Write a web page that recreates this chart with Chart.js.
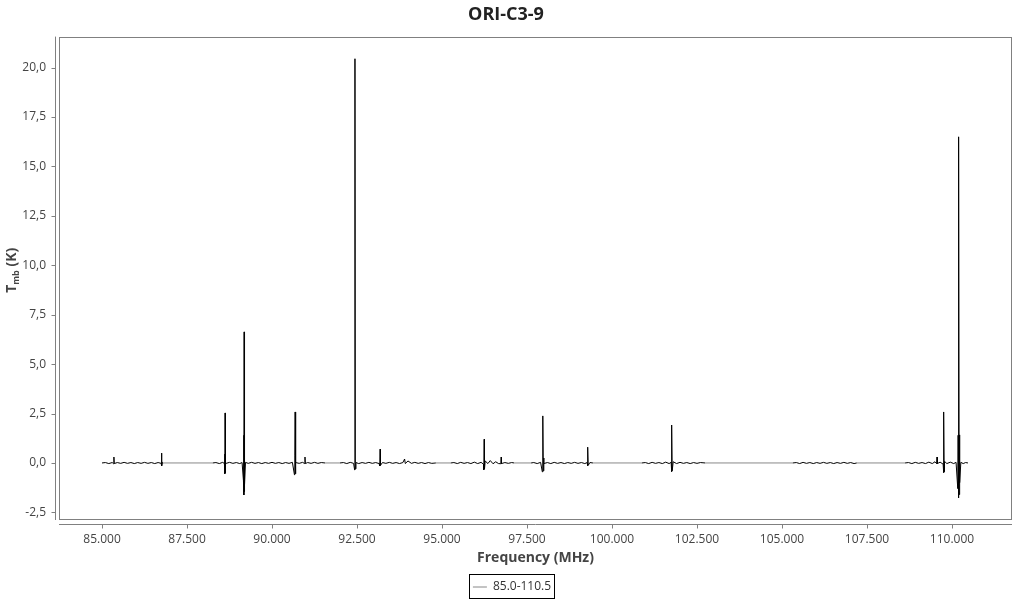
<!DOCTYPE html>
<html>
<head>
<meta charset="utf-8">
<script src="https://cdn.jsdelivr.net/npm/chart.js@4/dist/chart.umd.min.js"></script>
<style>
  html, body { margin: 0; padding: 0; background: #fff; }
  #wrap { width: 1024px; height: 600px; }
</style>
</head>
<body>
<div id="wrap"><canvas id="chart" width="1024" height="600"></canvas></div>
<script>
(function () {

  var chartTitle = 'ORI-C3-9';
  var seriesLabel = '85.0-110.5';
  var xTitle = 'Frequency (MHz)';
  var yTitleMain = 'T', yTitleSub = 'mb', yTitleUnit = ' (K)';

  var xMin = 83.735, xMax = 111.765, xStep = 2.5;
  var yMin = -2.886, yMax = 21.57, yStep = 2.5;

  // spectrum (MHz, K)
  var freqMHz = [
    85.00, 85.10, 85.20, 85.30, 85.34, 85.35, 85.36, 85.45, 85.55, 85.65, 85.75, 85.85, 85.95,
    86.05, 86.15, 86.25, 86.35, 86.45, 86.55, 86.65, 86.74, 86.75, 86.76, 86.78, 86.80,

    88.26, 88.35, 88.45, 88.55, 88.60, 88.61, 88.615, 88.62, 88.625, 88.63, 88.64, 88.75, 88.85,
    88.95, 89.05, 89.12, 89.16, 89.17, 89.175, 89.18, 89.185, 89.19, 89.20, 89.22, 89.30, 89.40,
    89.50, 89.60, 89.70, 89.80, 89.90, 90.00, 90.10, 90.20, 90.30, 90.40, 90.50, 90.60, 90.66,
    90.67, 90.68, 90.69, 90.70, 90.80, 90.90, 90.96, 90.97, 90.98, 91.05, 91.15, 91.25, 91.35,
    91.45, 91.56,

    92.00, 92.10, 92.20, 92.30, 92.40, 92.43, 92.44, 92.45, 92.47, 92.55, 92.65, 92.75, 92.85,
    92.95, 93.05, 93.15, 93.17, 93.18, 93.19, 93.25, 93.35, 93.45, 93.55, 93.65, 93.75, 93.85,
    93.90, 93.92, 94.00, 94.10, 94.20, 94.30, 94.40, 94.50, 94.60, 94.70, 94.82,

    95.26, 95.35, 95.45, 95.55, 95.65, 95.75, 95.85, 95.95, 96.05, 96.15, 96.22, 96.23, 96.24,
    96.25, 96.27, 96.35, 96.42, 96.50, 96.58, 96.66, 96.73, 96.74, 96.75, 96.85, 96.95, 97.05,
    97.12,

    97.62, 97.70, 97.80, 97.90, 97.95, 97.96, 97.97, 97.98, 97.99, 98.00, 98.10, 98.20, 98.30,
    98.40, 98.50, 98.60, 98.70, 98.80, 98.90, 99.00, 99.10, 99.20, 99.27, 99.28, 99.29, 99.30,
    99.35, 99.44,

    100.88, 100.98, 101.08, 101.18, 101.28, 101.38, 101.48, 101.58, 101.68, 101.74, 101.75,
    101.76, 101.77, 101.80, 101.90, 102.00, 102.10, 102.20, 102.30, 102.40, 102.50, 102.60,
    102.74,

    105.32, 105.42, 105.52, 105.62, 105.72, 105.82, 105.92, 106.02, 106.12, 106.22, 106.32,
    106.42, 106.52, 106.62, 106.72, 106.82, 106.92, 107.02, 107.12, 107.20,

    108.62, 108.72, 108.82, 108.92, 109.02, 109.12, 109.22, 109.32, 109.42, 109.50, 109.55,
    109.56, 109.57, 109.65, 109.74, 109.75, 109.76, 109.77, 109.78, 109.85, 109.95, 110.05,
    110.12, 110.17, 110.18, 110.19, 110.20, 110.21, 110.22, 110.23, 110.26, 110.33, 110.40,
    110.47
  ];

  var tmbK = [
    0, 0.02, -0.03, 0.02, -0.04, 0.30, -0.03, 0.02, -0.02, 0.03, -0.02, 0.02, -0.03,
    0.02, -0.02, 0.03, -0.02, 0.02, -0.03, 0.02, -0.02, 0.50, -0.15, 0.03, 0,

    0, 0.02, -0.03, 0.03, -0.03, 0.45, -0.55, 2.53, -0.50, 0.40, -0.03, 0.03, -0.02,
    0.02, -0.03, 0.02, -0.90, 1.40, -1.62, 6.63, -1.45, 1.42, -1.10, 0.03, -0.02, 0.03,
    -0.02, 0.02, -0.03, 0.02, -0.02, 0.03, -0.02, 0.02, -0.03, 0.02, -0.02, 0.03, -0.60,
    0.40, 2.58, -0.55, 0.02, -0.02, 0.03, -0.03, 0.30, -0.03, 0.02, -0.02, 0.03, -0.02,
    0.02, 0,

    0, 0.02, -0.03, 0.03, -0.02, -0.35, 20.45, -0.30, 0.02, -0.03, 0.02, -0.02, 0.03,
    -0.02, 0.02, -0.03, -0.15, 0.70, -0.12, 0.02, -0.02, 0.03, -0.02, 0.02, -0.03, 0.02,
    0.20, -0.03, 0.10, -0.02, 0.03, -0.02, 0.02, -0.03, 0.02, -0.02, 0,

    0, 0.02, -0.03, 0.03, -0.02, 0.02, -0.03, 0.04, -0.03, 0.03, -0.06, -0.35, 1.20,
    -0.30, 0.10, -0.03, 0.12, -0.04, 0.06, -0.03, -0.04, 0.30, -0.03, 0.02, -0.02, 0.02,
    0,

    0, 0.02, -0.03, 0.03, -0.45, 0.30, 2.38, -0.40, 0.25, -0.03, 0.02, -0.03, 0.03,
    -0.02, 0.02, -0.03, 0.02, -0.02, 0.03, -0.02, 0.02, -0.03, 0.02, -0.15, 0.80, -0.12,
    0.02, 0,

    0, 0.02, -0.03, 0.03, -0.02, 0.02, -0.03, 0.04, -0.03, 0.03, -0.45,
    1.92, -0.40, 0.06, -0.03, 0.03, -0.02, 0.02, -0.03, 0.02, -0.02, 0.02,
    0,

    0, 0.02, -0.03, 0.03, -0.02, 0.02, -0.03, 0.02, -0.02, 0.03, -0.02,
    0.02, -0.03, 0.02, -0.02, 0.03, -0.02, 0.02, -0.03, 0,

    0, 0.02, -0.03, 0.03, -0.02, 0.02, -0.03, 0.04, -0.03, 0.06, -0.04,
    0.30, -0.03, 0.04, -0.06, -0.50, 2.58, -0.45, 0.08, -0.03, 0.04, -0.03,
    0.03, -1.30, 1.40, -1.77, 16.50, -1.60, 1.42, -1.00, 0.03, -0.03, 0.02,
    0
  ];

  var font = '"Open Sans", "Noto Sans", sans-serif';
  var axisGray = '#808080';

  var points = freqMHz.map(function (f, i) {
    return { x: f, y: tmbK[i] };
  });

  // frame, offset axis lines, tick marks, y title with subscript, legend box
  var decor = {
    id: 'decor',
    afterLayout: function (chart) {
      // centre the legend on the whole canvas, not on the padded area
      chart.legend.left = 0;
      chart.legend.right = chart.width;
      chart.legend.width = chart.width;
    },
    beforeDatasetsDraw: function (chart) {
      var c = chart.ctx, a = chart.chartArea;
      var xs = chart.scales.x, ys = chart.scales.y;
      c.save();
      c.strokeStyle = axisGray;
      c.lineWidth = 1;
      c.strokeRect(Math.round(a.left) + 0.5, Math.round(a.top) + 0.5,
        Math.round(a.right - a.left) - 1, Math.round(a.bottom - a.top) - 1);

      var yl = Math.round(a.left) - 4 + 0.5;
      var xl = Math.round(a.bottom) + 4 + 0.5;
      c.beginPath();
      c.moveTo(yl, a.top);
      c.lineTo(yl, a.bottom);
      c.moveTo(a.left, xl);
      c.lineTo(a.right, xl);
      ys.ticks.forEach(function (t) {
        var p = Math.round(ys.getPixelForValue(t.value)) + 0.5;
        c.moveTo(yl - 4, p);
        c.lineTo(yl, p);
      });
      xs.ticks.forEach(function (t) {
        var p = Math.round(xs.getPixelForValue(t.value)) + 0.5;
        c.moveTo(p, xl);
        c.lineTo(p, xl + 4);
      });
      c.stroke();
      c.restore();
    },
    afterDraw: function (chart) {
      var c = chart.ctx, a = chart.chartArea;
      c.save();
      c.translate(12, (a.top + a.bottom) / 2 - 8);
      c.rotate(-Math.PI / 2);
      c.fillStyle = '#444';
      c.textBaseline = 'middle';
      var big = 'bold 14px ' + font, small = 'bold 9px ' + font;
      c.font = big;
      var w1 = c.measureText(yTitleMain).width;
      var w3 = c.measureText(yTitleUnit).width;
      c.font = small;
      var w2 = c.measureText(yTitleSub).width;
      var x0 = -(w1 + w2 + w3) / 2;
      c.font = big;
      c.fillText(yTitleMain, x0, 0);
      c.font = small;
      c.fillText(yTitleSub, x0 + w1, 4);
      c.font = big;
      c.fillText(yTitleUnit, x0 + w1 + w2, 0);
      c.restore();

      var hb = chart.legend.legendHitBoxes[0];
      if (hb) {
        c.save();
        c.strokeStyle = '#000';
        c.lineWidth = 1;
        c.strokeRect(Math.round(hb.left) - 3.5, Math.round(hb.top) - 6.5,
          Math.round(hb.width) + 7, hb.height + 12);
        c.restore();
      }
    }
  };

  new Chart(document.getElementById('chart').getContext('2d'), {
    type: 'line',
    data: {
      datasets: [{
        label: seriesLabel,
        data: points,
        borderColor: '#888',
        borderWidth: 1,
        pointRadius: 0,
        tension: 0,
        segment: {
          borderColor: function (s) {
            return (s.p1.parsed.x - s.p0.parsed.x) > 0.3 ? '#888' : '#000';
          }
        }
      }]
    },
    options: {
      responsive: false,
      animation: false,
      events: [],
      layout: { padding: { left: 0, right: 12, top: 0, bottom: -3 } },
      plugins: {
        title: {
          display: true,
          text: chartTitle,
          color: '#222',
          font: { family: font, size: 18, weight: 'bold' },
          padding: { top: 4, bottom: 11 }
        },
        legend: {
          display: true,
          position: 'bottom',
          labels: {
            color: '#333',
            font: { family: font, size: 12 },
            usePointStyle: true,
            pointStyle: 'line',
            pointStyleWidth: 14,
            padding: 10
          }
        },
        tooltip: { enabled: false }
      },
      scales: {
        x: {
          type: 'linear',
          min: xMin,
          max: xMax,
          afterFit: function (s) { s.height = 51; },
          border: { display: false },
          grid: { display: false, drawTicks: false },
          ticks: {
            stepSize: xStep,
            includeBounds: false,
            autoSkip: false,
            maxRotation: 0,
            padding: 12,
            color: '#444',
            font: { family: font, size: 12 },
            callback: function (v) { return v.toFixed(3); }
          },
          title: {
            display: true,
            text: xTitle,
            color: '#444',
            font: { family: font, size: 14, weight: 'bold' },
            padding: { top: 0, bottom: 5 }
          }
        },
        y: {
          type: 'linear',
          min: yMin,
          max: yMax,
          afterFit: function (s) { s.width = 59; },
          border: { display: false },
          grid: { display: false, drawTicks: false },
          ticks: {
            stepSize: yStep,
            includeBounds: false,
            padding: 13,
            color: '#444',
            font: { family: font, size: 12 },
            callback: function (v) { return v.toFixed(1).replace('.', ','); }
          }
        }
      }
    },
    plugins: [decor]
  });

})();
</script>
</body>
</html>
